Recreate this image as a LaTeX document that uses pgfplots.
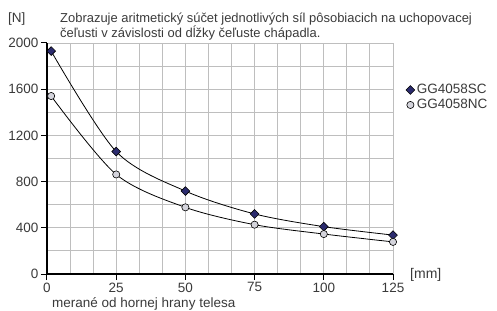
\documentclass[border=0pt]{standalone}
\usepackage{pgfplots}
\pgfplotsset{compat=1.18}
\usepackage{fontspec}
\setmainfont{Liberation Sans}
\definecolor{txt}{HTML}{3A3A3A}
\definecolor{gridc}{HTML}{BEBEBE}
\definecolor{navy}{HTML}{2B2B6E}
\definecolor{lgray}{HTML}{D4D4DC}
\begin{document}
\fontsize{10.5}{12.5}\selectfont
\begin{tikzpicture}[x=1pt,y=1pt]
\path[use as bounding box] (-47,-36) rectangle (450,274);
\begin{axis}[
  at={(0,0)}, anchor=origin,
  scale only axis, width=346pt, height=231pt,
  xmin=0, xmax=125, ymin=0, ymax=2000,
  axis x line=bottom, axis y line=left,
  axis line style={black, line width=1.1pt, -},
  xtick={0,25,50,75,100,125}, ytick={0,400,800,1200,1600,2000},
  minor xtick={8.333,16.667,33.333,41.667,58.333,66.667,83.333,91.667,108.333,116.667},
  minor ytick={200,600,1000,1400,1800},
  grid=both,
  major grid style={gridc, line width=0.9pt},
  minor grid style={gridc, line width=0.9pt},
  major tick length=6pt, minor tick length=0pt,
  tick style={black, line width=1pt},
  tick align=outside,
  ticklabel style={font=\fontsize{13.5}{15}\selectfont, text=txt},
  /pgf/number format/assume math mode=true,
  /pgf/number format/1000 sep={},
  yticklabel style={xshift=1pt},
  xticklabel style={yshift=1pt},
  clip=false,
  legend style={at={(rel axis cs:1.037,0.83)}, anchor=north west, draw=none, fill=none,
    font=\fontsize{13.5}{15}\selectfont, text=txt, inner sep=0pt, row sep=0pt,
    /tikz/every even column/.append style={column sep=0pt}},
  legend cell align=left,
  legend image code/.code={\draw[#1] plot coordinates {(3pt,0pt)};},
]
\addplot[black, line width=0.8pt, smooth, mark=square*, mark size=3.1pt,
  mark options={rotate=45, fill=navy, draw=black, line width=0.6pt}, forget plot]
  coordinates {(1.5,1930) (25,1060) (50,718) (75,520) (100,410) (125,337)};
\addplot[black, line width=0.8pt, smooth, mark=*, mark size=3.6pt,
  mark options={fill=lgray, draw=black, line width=0.6pt}, forget plot]
  coordinates {(1.5,1541) (25,862) (50,577) (75,427) (100,346) (125,278)};
\addlegendimage{only marks, mark=square*, mark size=3.1pt, mark options={rotate=45, fill=navy, draw=black, line width=0.6pt}}
\addlegendentry{GG4058SC}
\addlegendimage{only marks, mark=*, mark size=3.6pt, mark options={fill=lgray, draw=black, line width=0.6pt}}
\addlegendentry{GG4058NC}
\end{axis}
\begin{scope}[text=txt]
\node[anchor=base west, inner sep=0, font=\fontsize{13.5}{15}\selectfont] at (-39,251) {[N]};
\node[anchor=base west, inner sep=0, font=\fontsize{12.95}{14}\selectfont] at (13,251) {Zobrazuje aritmetický súčet jednotlivých síl pôsobiacich na uchopovacej};
\node[anchor=base west, inner sep=0, font=\fontsize{12.95}{14}\selectfont] at (13,236.5) {čeľusti v závislosti od dĺžky čeľuste chápadla.};
\node[anchor=base west, inner sep=0, font=\fontsize{14}{16}\selectfont] at (363,-5) {[mm]};
\node[anchor=base west, inner sep=0, font=\fontsize{13.5}{15}\selectfont] at (5,-34) {merané od hornej hrany telesa};
\end{scope}
\end{tikzpicture}
\end{document}
